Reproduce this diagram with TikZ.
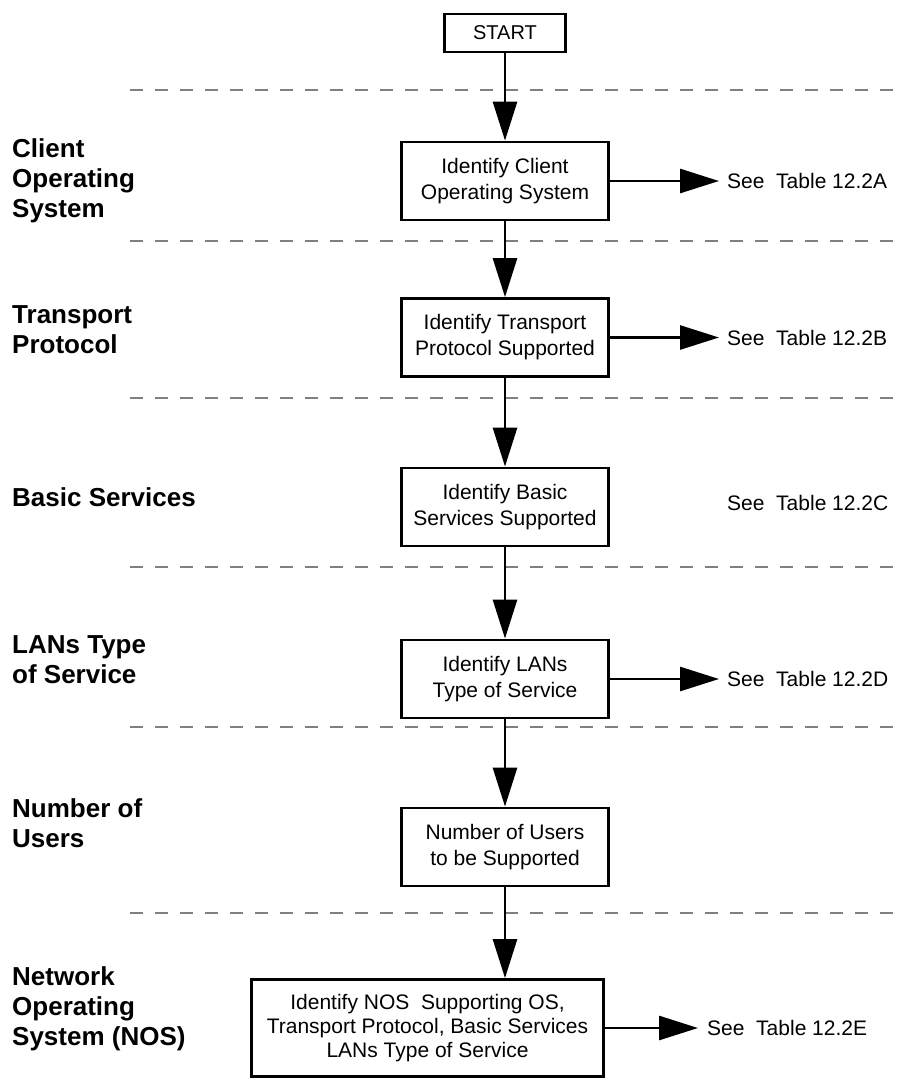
\documentclass[tikz,border=0pt]{standalone}
\usepackage{fontspec}
\setmainfont{Liberation Sans}
\usetikzlibrary{arrows.meta}
\begin{document}
\begin{tikzpicture}[x=1pt,y=-1pt,
  box/.style={draw,line width=2.8pt,minimum width=207pt,minimum height=78pt,align=center,font=\fontsize{21}{26}\selectfont,inner sep=0pt},
  arr/.style={line width=2.8pt,-{Triangle[length=39pt,width=24pt]}},
  sep/.style={draw=gray,line width=1.3pt,dash pattern=on 13pt off 12pt},
  lab/.style={anchor=base west,align=left,font=\fontsize{26}{30}\selectfont\bfseries,inner sep=0pt},
  see/.style={anchor=west,inner sep=0pt,font=\fontsize{21}{25}\selectfont}]
\useasboundingbox[fill=white] (0,0) rectangle (898,1082);

% separators
\foreach \yy in {90,241,398,567,727,913}
  \draw[sep] (130,\yy) -- (898,\yy);

% start
\node[draw,line width=2.6pt,minimum width=121pt,minimum height=38pt,inner sep=0pt,font=\fontsize{20}{24}\selectfont] (start) at (505,33) {START};

% boxes
\node[box] (b1) at (505,181) {Identify Client\\Operating System};
\node[box] (b2) at (505,337.5) {Identify Transport\\Protocol Supported};
\node[box] (b3) at (505,507) {Identify Basic\\Services Supported};
\node[box] (b4) at (505,679) {Identify LANs\\Type of Service};
\node[box] (b5) at (505,847) {Number of Users\\to be Supported};
\node[box,minimum width=352pt,minimum height=97pt,font=\fontsize{21}{24}\selectfont] (b6) at (427.5,1028) {Identify NOS\ \ Supporting OS,\\Transport Protocol, Basic Services\\LANs Type of Service};

% left labels (anchored at the baseline of the last line)
\node[lab] (l1) at (12,217) {Client\\Operating\\System};
\node[lab] (l2) at (12,353) {Transport\\Protocol};
\node[lab] (l3) at (12,506) {Basic Services};
\node[lab] (l4) at (12,683) {LANs Type\\of Service};
\node[lab] (l5) at (12,847) {Number of\\Users};
\node[lab] (l6) at (12,1045) {Network\\Operating\\System (NOS)};

% right references
\node[see] (tA) at (727,181) {See\ \ Table 12.2A};
\node[see] (tB) at (727,337.5) {See\ \ Table 12.2B};
\node[see] (tC) at (727,503) {See\ \ Table 12.2C};
\node[see] (tD) at (727,679) {See\ \ Table 12.2D};
\node[see] (tE) at (707,1028) {See\ \ Table 12.2E};

% vertical arrows
\draw[arr] (start.south) -- (b1.north);
\draw[arr] (b1.south) -- (b2.north);
\draw[arr] (b2.south) -- (b3.north);
\draw[arr] (b3.south) -- (b4.north);
\draw[arr] (b4.south) -- (b5.north);
\draw[arr] (b5.south) -- (b5.south |- b6.north);

% horizontal arrows
\draw[arr,shorten >=8pt] (b1.east) -- (tA.west);
\draw[arr,shorten >=8pt] (b2.east) -- (tB.west);
\draw[arr,shorten >=8pt] (b4.east) -- (tD.west);
\draw[arr,shorten >=9pt] (b6.east) -- (tE.west);
\end{tikzpicture}
\end{document}
